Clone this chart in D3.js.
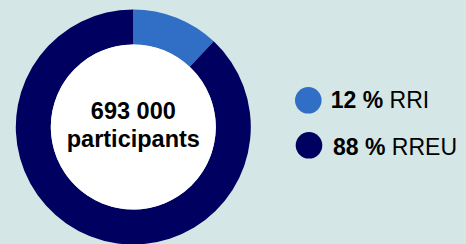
<!DOCTYPE html>
<html><head><meta charset="utf-8">
<script src="https://cdn.jsdelivr.net/npm/d3@7"></script>
<style>html,body{margin:0;padding:0;background:#d4e6e5;overflow:hidden}svg{display:block}</style>
</head><body>
<script>
const categories = ["RRI", "RREU"];
const values = [12, 88];
const colors = ["#306fc5", "#000060"];
const centerLines = ["693 000", "participants"];

const W = 466, H = 244;
const svg = d3.select("body").append("svg").attr("width", W).attr("height", H)
  .style("font-family", "'Liberation Sans', Arial, sans-serif");
svg.append("rect").attr("width", W).attr("height", H).attr("fill", "#d4e6e5");

const cx = 133.3, cy = 127, rOut = 117.5, rIn = 82.5;
const g = svg.append("g").attr("transform", `translate(${cx},${cy})`);
const pie = d3.pie().sort(null).value(d => d)(values);
const arc = d3.arc().innerRadius(rIn).outerRadius(rOut);
g.selectAll("path.slice").data(pie).join("path").attr("class", "slice")
  .attr("d", arc).attr("fill", (d, i) => colors[i]);
g.append("circle").attr("r", rIn).attr("fill", "#ffffff");
g.selectAll("text.center").data(centerLines).join("text").attr("class", "center")
  .attr("text-anchor", "middle").attr("x", 0).attr("y", (d, i) => -8 + i * 28)
  .attr("font-size", 23.5).attr("font-weight", "bold").attr("fill", "#000").text(d => d);

const legend = svg.append("g");
const items = legend.selectAll("g").data(categories).join("g")
  .attr("transform", (d, i) => `translate(${308.3 + i * 0.7},${100.3 + i * 45})`);
items.append("circle").attr("r", 13.3).attr("fill", (d, i) => colors[i]);
const t = items.append("text").attr("x", (d, i) => 22.4 + i * 1.6).attr("y", (d, i) => 7.6 + i * 1.8)
  .attr("font-size", 23).attr("fill", "#000");
t.append("tspan").attr("font-weight", "bold").text((d, i) => values[i] + " % ");
t.append("tspan").text(d => d);
</script>
</body></html>
